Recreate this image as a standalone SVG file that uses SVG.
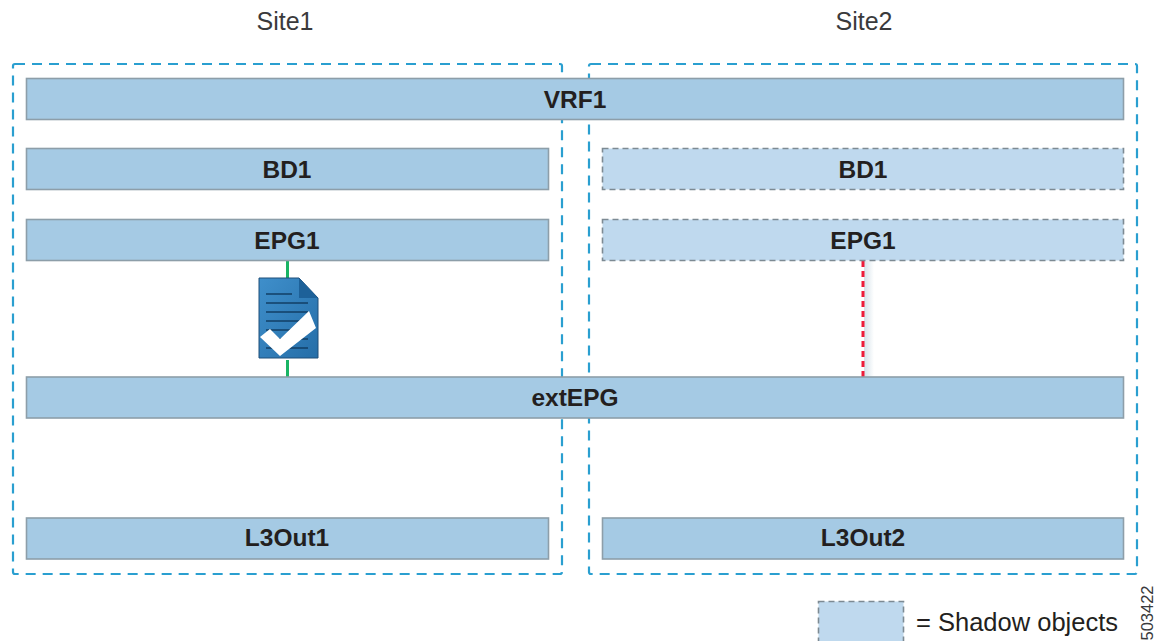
<svg xmlns="http://www.w3.org/2000/svg" width="1157" height="641" viewBox="0 0 1157 641">
<style>
text{font-family:"Liberation Sans",Arial,sans-serif;fill:#231f20;text-anchor:middle}
.b{font-size:24.5px;font-weight:700}
.t{font-size:25px;fill:#3a3a3c}
.site{fill:none;stroke:#2a9fd0;stroke-width:2.2;stroke-dasharray:10 7}
.n{fill:#a5cae4;stroke:#8d9ea9;stroke-width:1.6}
.s{fill:#bfd9ee;stroke:#7d8a93;stroke-width:1.6;stroke-dasharray:6 4}
</style>
<defs>
<linearGradient id="glow" x1="0" x2="1" y1="0" y2="0"><stop offset="0" stop-color="#d5e2ea"/><stop offset="1" stop-color="#fff"/></linearGradient>
<linearGradient id="doc" x1="0" x2="1" y1="0" y2="1"><stop offset="0" stop-color="#3f8fcb"/><stop offset="1" stop-color="#256ea8"/></linearGradient>
</defs>
<rect width="1157" height="641" fill="#fff"/>
<text class="t" x="285" y="30">Site1</text>
<text class="t" x="864" y="30">Site2</text>
<rect id="site1" class="site" x="13" y="64" width="549" height="510" rx="2"/>
<rect id="site2" class="site" x="589" y="64" width="548" height="510" rx="2"/>
<g id="connectors">
<rect x="864" y="261" width="10" height="116" fill="url(#glow)"/>
<line x1="287.500" y1="261" x2="287.500" y2="278" stroke="#19b464" stroke-width="3"/>
<line x1="287.500" y1="360" x2="287.500" y2="377" stroke="#19b464" stroke-width="3"/>
<line x1="863" y1="261" x2="863" y2="377" stroke="#ee1c3a" stroke-width="3" stroke-dasharray="6 4"/>
</g>
<g id="vrf1"><rect class="n" x="26.500" y="78.500" width="1097" height="41"/><text class="b" x="575" y="108">VRF1</text></g>
<g id="bd1-site1"><rect class="n" x="26.500" y="148.500" width="522" height="41"/><text class="b" x="287" y="178">BD1</text></g>
<g id="bd1-site2"><rect class="s" x="602.500" y="148.500" width="521" height="41"/><text class="b" x="863" y="178">BD1</text></g>
<g id="epg1-site1"><rect class="n" x="26.500" y="219.500" width="522" height="41"/><text class="b" x="287" y="249">EPG1</text></g>
<g id="epg1-site2"><rect class="s" x="602.500" y="219.500" width="521" height="41"/><text class="b" x="863" y="249">EPG1</text></g>
<g id="contract">
<path d="M259 278H299L318 298V358H259Z" fill="url(#doc)" stroke="#1f4e78" stroke-width="1"/>
<path d="M299 278L318 298H299Z" fill="#1d6199"/>
<path d="M266 294H292M266 303H308M266 312H308M266 321H308M266 330H308M266 339H308M266 348H308" stroke="#123f66" stroke-width="1.500" fill="none"/>
<path d="M260 337L270 329L280 339L309 311L316 328L280 356Z" fill="#fff"/>
</g>
<g id="extepg"><rect class="n" x="26.500" y="377" width="1097" height="41"/><text class="b" x="575" y="406">extEPG</text></g>
<g id="l3out1"><rect class="n" x="26.500" y="518" width="522" height="41"/><text class="b" x="287" y="546">L3Out1</text></g>
<g id="l3out2"><rect class="n" x="602.500" y="518" width="521" height="41"/><text class="b" x="863" y="546">L3Out2</text></g>
<g id="legend">
<rect class="s" x="818.500" y="601.500" width="85" height="41"/>
<text x="1017" y="631" style="font-size:25.500px">= Shadow objects</text>
<text x="1153" y="613" font-size="16.500" transform="rotate(-90 1153 613)" style="fill:#3a3a3c">503422</text>
</g>
</svg>
